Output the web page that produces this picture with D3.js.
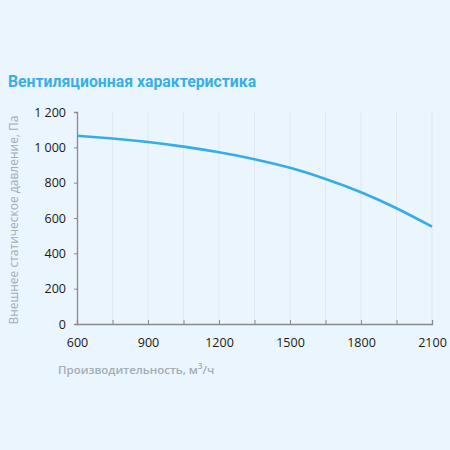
<!DOCTYPE html>
<html lang="ru">
<head>
<meta charset="utf-8">
<title>Вентиляционная характеристика</title>
<script src="https://cdn.jsdelivr.net/npm/d3@7"></script>
<style>
  html, body { margin: 0; padding: 0; background: #eaf5fd; }
  svg { display: block; }
</style>
</head>
<body>
<script>

// airflow, m3/h
var airflow = [600, 750, 900, 1050, 1200, 1350, 1500, 1650, 1800, 1950, 2100];
// external static pressure, Pa
var pressure = [1066, 1050, 1030, 1004, 972, 933, 884, 821, 746, 655, 551];

var xTicks = [600, 900, 1200, 1500, 1800, 2100];
var xMinorTicks = [600, 750, 900, 1050, 1200, 1350, 1500, 1650, 1800, 1950, 2100];
var yTicks = [0, 200, 400, 600, 800, 1000, 1200];

var W = 450, H = 450;
var m = { left: 77, right: 18, top: 112, bottom: 126 };

var svg = d3.select("body").append("svg")
    .attr("width", W)
    .attr("height", H);

svg.append("rect").attr("width", W).attr("height", H).attr("fill", "#eaf5fd");

var x = d3.scaleLinear().domain([600, 2100]).range([m.left, W - m.right]);
var y = d3.scaleLinear().domain([0, 1200]).range([H - m.bottom, m.top]);

// title
svg.append("text")
    .attr("x", 8)
    .attr("y", 87)
    .attr("font-family", "Roboto, sans-serif")
    .attr("font-weight", "bold")
    .attr("font-size", 15.8)
    .attr("fill", "#3aaee6")
    .text("Вентиляционная характеристика");

// vertical grid
svg.append("g")
    .selectAll("line")
    .data(xMinorTicks.slice(1))
    .enter()
    .append("line")
    .attr("x1", function(d) { return x(d); })
    .attr("x2", function(d) { return x(d); })
    .attr("y1", y(1200))
    .attr("y2", y(0))
    .attr("stroke", "#e0e9f2")
    .attr("stroke-width", 1);

// y axis
var yAxis = svg.append("g")
    .attr("transform", "translate(" + m.left + ",0)")
    .call(d3.axisLeft(y).tickValues(yTicks).tickSize(3).tickPadding(8)
        .tickFormat(function(d) { return d3.format(",")(d).replace(",", " "); }));

// x axis, ticks pointing up into the plot
var xAxis = svg.append("g")
    .attr("transform", "translate(0," + y(0) + ")")
    .call(d3.axisBottom(x).tickValues(xMinorTicks).tickSize(-4).tickPadding(12)
        .tickFormat(function(d) { return xTicks.indexOf(d) >= 0 ? d : ""; }));

[yAxis, xAxis].forEach(function(g) {
  g.select(".domain").attr("stroke", "#8a8a8a").attr("stroke-width", 1.3);
  g.selectAll(".tick line").attr("stroke", "#8a8a8a");
  g.selectAll("text")
    .attr("font-family", "'Open Sans', sans-serif")
    .attr("font-size", 12.5)
    .attr("fill", "#1a1a1a");
});
xAxis.selectAll("text").attr("dy", "0.9em");

// axis titles
svg.append("text")
    .attr("transform", "translate(18," + ((y(0) + y(1200)) / 2 + 2) + ") rotate(-90)")
    .attr("text-anchor", "middle")
    .attr("font-family", "'Open Sans', sans-serif")
    .attr("font-size", 12)
    .attr("fill", "#a4acb4")
    .text("Внешнее статическое давление, Па");

var xl = svg.append("text")
    .attr("x", 58)
    .attr("y", 374)
    .attr("font-family", "'Open Sans', sans-serif")
    .attr("font-size", 11.5)
    .attr("font-weight", 600)
    .attr("fill", "#a4acb4");
xl.append("tspan").text("Производительность, м");
xl.append("tspan").attr("dy", -5).attr("font-size", 8).text("3");
xl.append("tspan").attr("dy", 5).text("/ч");

// curve
var line = d3.line()
    .x(function(d, i) { return x(airflow[i]); })
    .y(function(d) { return y(d); })
    .curve(d3.curveNatural);

svg.append("path")
    .datum(pressure)
    .attr("d", line)
    .attr("fill", "none")
    .attr("stroke", "#35ade8")
    .attr("stroke-width", 2.6);

</script>
</body>
</html>
